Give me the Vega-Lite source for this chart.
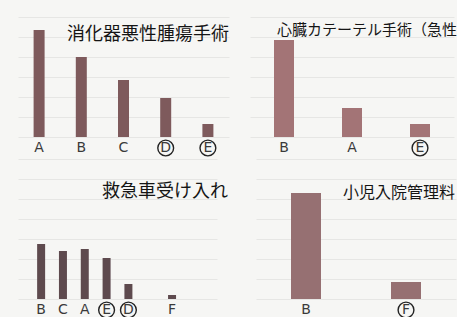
{
  "$schema": "https://vega.github.io/schema/vega-lite/v6.json",
  "background": "#f6f6f4",
  "padding": 0,
  "columns": 2,
  "align": "none",
  "spacing": 0,
  "config": {
    "view": {"stroke": null},
    "concat": {"spacing": 0},
    "axisY": {"labels": false, "ticks": false, "domain": false, "grid": true, "gridColor": "#e2e2e0", "gridWidth": 0.8, "title": null, "tickCount": 7},
    "title": {"font": "Noto Sans CJK JP", "fontWeight": "normal", "color": "#151515", "frame": "group", "orient": "top"},
    "text": {"font": "DejaVu Sans", "fontSize": 14, "color": "#3a3a3a", "baseline": "middle"}
  },
  "datasets": {
    "p1": [
      {"k": "A", "lab": "A", "v": 107, "circ": false},
      {"k": "B", "lab": "B", "v": 80, "circ": false},
      {"k": "C", "lab": "C", "v": 57, "circ": false},
      {"k": "D", "lab": "D", "v": 39, "circ": true},
      {"k": "E", "lab": "E", "v": 13, "circ": true}
    ],
    "p2": [
      {"k": "B", "lab": "B", "v": 97, "circ": false},
      {"k": "A", "lab": "A", "v": 29, "circ": false},
      {"k": "E", "lab": "E", "v": 13, "circ": true}
    ],
    "p3": [
      {"k": "1", "lab": "B", "v": 55, "circ": false},
      {"k": "2", "lab": "C", "v": 48, "circ": false},
      {"k": "3", "lab": "A", "v": 50, "circ": false},
      {"k": "4", "lab": "E", "v": 41, "circ": true},
      {"k": "5", "lab": "D", "v": 15, "circ": true},
      {"k": "6", "lab": "", "v": 0, "circ": false},
      {"k": "7", "lab": "F", "v": 4, "circ": false},
      {"k": "8", "lab": "", "v": 0, "circ": false}
    ],
    "p4": [
      {"k": "B", "lab": "B", "v": 106, "circ": false},
      {"k": "F", "lab": "F", "v": 17, "circ": true}
    ]
  },
  "concat": [
    {
      "width": 211, "height": 137,
      "data": {"name": "p1"},
      "title": {"text": "消化器悪性腫瘍手術", "fontSize": 18, "anchor": "end", "offset": -44, "dx": 0},
      "encoding": {
        "x": {"field": "k", "type": "nominal", "sort": null, "axis": null, "scale": {"paddingInner": 0, "paddingOuter": 0}},
        "y": {"field": "v", "type": "quantitative", "scale": {"domain": [0, 137], "nice": false}, "axis": {"minExtent": 18, "maxExtent": 18}}
      },
      "layer": [
        {"mark": {"type": "bar", "width": 11, "color": "#7e5a5c"}},
        {"mark": {"type": "text", "dy": 11}, "encoding": {"y": {"datum": 0}, "text": {"field": "lab"}}},
        {"transform": [{"filter": "datum.circ"}], "mark": {"type": "point", "shape": "circle", "filled": false, "size": 250, "stroke": "#222", "strokeWidth": 1.4, "yOffset": 11, "opacity": 1}, "encoding": {"y": {"datum": 0}}}
      ]
    },
    {
      "width": 204, "height": 137,
      "data": {"name": "p2"},
      "title": {"text": "心臓カテーテル手術（急性", "fontSize": 15, "anchor": "end", "offset": -38, "dx": 3},
      "encoding": {
        "x": {"field": "k", "type": "nominal", "sort": null, "axis": null, "scale": {"paddingInner": 0, "paddingOuter": 0}},
        "y": {"field": "v", "type": "quantitative", "scale": {"domain": [0, 137], "nice": false}, "axis": {"minExtent": 21, "maxExtent": 21}}
      },
      "layer": [
        {"mark": {"type": "bar", "width": 20, "color": "#a37476"}},
        {"mark": {"type": "text", "dy": 11}, "encoding": {"y": {"datum": 0}, "text": {"field": "lab"}}},
        {"transform": [{"filter": "datum.circ"}], "mark": {"type": "point", "shape": "circle", "filled": false, "size": 250, "stroke": "#222", "strokeWidth": 1.4, "yOffset": 11, "opacity": 1}, "encoding": {"y": {"datum": 0}}}
      ]
    },
    {
      "width": 199, "height": 140,
      "data": {"name": "p3"},
      "title": {"text": "救急車受け入れ", "fontSize": 18, "anchor": "end", "offset": -42, "dx": 11},
      "encoding": {
        "x": {"field": "k", "type": "nominal", "sort": null, "axis": null, "scale": {"paddingInner": 0, "paddingOuter": 0.56}},
        "y": {"field": "v", "type": "quantitative", "scale": {"domain": [0, 140], "nice": false}, "axis": {"minExtent": 18, "maxExtent": 18}}
      },
      "layer": [
        {"mark": {"type": "bar", "width": 8, "color": "#5e4a4e"}},
        {"mark": {"type": "text", "dy": 11}, "encoding": {"y": {"datum": 0}, "text": {"field": "lab"}}},
        {"transform": [{"filter": "datum.circ"}], "mark": {"type": "point", "shape": "circle", "filled": false, "size": 250, "stroke": "#222", "strokeWidth": 1.4, "yOffset": 11, "opacity": 1}, "encoding": {"y": {"datum": 0}}}
      ]
    },
    {
      "width": 200, "height": 140,
      "data": {"name": "p4"},
      "title": {"text": "小児入院管理料", "fontSize": 16, "anchor": "end", "offset": -42, "dx": -1},
      "encoding": {
        "x": {"field": "k", "type": "nominal", "sort": null, "axis": null, "scale": {"paddingInner": 0, "paddingOuter": 0}},
        "y": {"field": "v", "type": "quantitative", "scale": {"domain": [0, 140], "nice": false}, "axis": {"minExtent": 27, "maxExtent": 27}}
      },
      "layer": [
        {"mark": {"type": "bar", "width": 30, "color": "#967072"}},
        {"mark": {"type": "text", "dy": 11}, "encoding": {"y": {"datum": 0}, "text": {"field": "lab"}}},
        {"transform": [{"filter": "datum.circ"}], "mark": {"type": "point", "shape": "circle", "filled": false, "size": 250, "stroke": "#222", "strokeWidth": 1.4, "yOffset": 11, "opacity": 1}, "encoding": {"y": {"datum": 0}}}
      ]
    }
  ]
}
